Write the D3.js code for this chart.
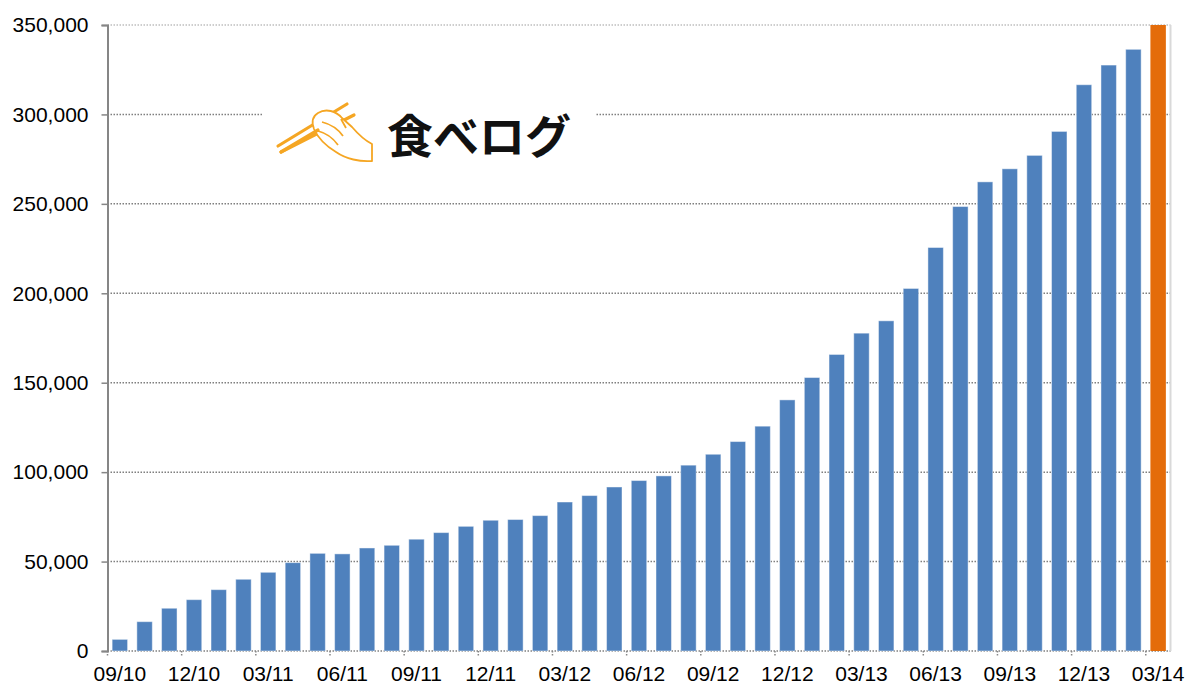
<!DOCTYPE html>
<html>
<head>
<meta charset="utf-8">
<script src="https://cdn.jsdelivr.net/npm/d3@7"></script>
<style>
  html, body { margin: 0; padding: 0; background: #fff; }
</style>
</head>
<body>
<div id="main"></div>
<script>
const ctx = {
    w: 1189,
    h: 686,
    left: 107.5,
    right: 1170.5,
    top: 25,
    bottom: 651
};

// months, 09/10 .. 03/14
const months = [
    "09/10", "10/10", "11/10", "12/10",
    "01/11", "02/11", "03/11", "04/11", "05/11", "06/11", "07/11", "08/11", "09/11", "10/11", "11/11", "12/11",
    "01/12", "02/12", "03/12", "04/12", "05/12", "06/12", "07/12", "08/12", "09/12", "10/12", "11/12", "12/12",
    "01/13", "02/13", "03/13", "04/13", "05/13", "06/13", "07/13", "08/13", "09/13", "10/13", "11/13", "12/13",
    "01/14", "02/14", "03/14"
];

// monthly counts
const counts = [
    6500, 16400, 23900, 28700,
    34300, 40100, 44000, 49400, 54600, 54300, 57600, 59100, 62500, 66200, 69700, 73100,
    73500, 75700, 83300, 86900, 91700, 95300, 97900, 103900, 110000, 117100, 125700, 140400,
    152900, 165800, 177700, 184600, 202700, 225600, 248500, 262300, 269600, 277100, 290500, 316600,
    327600, 336400, 350000
];

const yTicks = [0, 50000, 100000, 150000, 200000, 250000, 300000, 350000];
const xTickLabels = ["09/10", "12/10", "03/11", "06/11", "09/11", "12/11", "03/12", "06/12",
    "09/12", "12/12", "03/13", "06/13", "09/13", "12/13", "03/14"];
const highlight = "03/14";

//==============================================================================================
function drawChart(svg) {
    const x = d3.scaleBand()
        .domain(months)
        .range([ctx.left, ctx.right])
        .paddingInner(0.375)
        .paddingOuter(0.1875);

    const y = d3.scaleLinear()
        .domain([0, 350000])
        .range([ctx.bottom, ctx.top]);

    const fmt = d3.format(",");

    // gridlines (dotted)
    svg.append("g")
        .selectAll("line")
        .data(yTicks)
        .enter().append("line")
        .attr("x1", ctx.left)
        .attr("x2", ctx.right)
        .attr("y1", d => y(d))
        .attr("y2", d => y(d))
        .attr("stroke", d => d == 350000 ? "#bfbfbf" : "#7f7f7f")
        .attr("stroke-width", 1.5)
        .attr("stroke-dasharray", "1.5,1.5");

    // right frame line
    svg.append("line")
        .attr("x1", ctx.right).attr("x2", ctx.right)
        .attr("y1", ctx.top).attr("y2", ctx.bottom)
        .attr("stroke", "#d9d9d9")
        .attr("stroke-width", 2);

    // bars
    svg.append("g")
        .selectAll("rect")
        .data(months)
        .enter().append("rect")
        .attr("x", d => x(d))
        .attr("y", (d, i) => y(counts[i]))
        .attr("width", x.bandwidth())
        .attr("height", (d, i) => y(0) - y(counts[i]))
        .attr("fill", d => d == highlight ? "#E46C0A" : "#4F81BD")
        .attr("stroke", d => d == highlight ? "none" : "rgba(255,255,255,0.45)")
        .attr("stroke-width", 1);

    // y axis
    const yAxis = svg.append("g")
        .attr("transform", `translate(${ctx.left},0)`)
        .call(d3.axisLeft(y).tickValues(yTicks).tickFormat(fmt).tickSize(6).tickPadding(13));
    yAxis.select(".domain").attr("stroke", "#868686").attr("stroke-width", 2);
    yAxis.selectAll(".tick line").attr("stroke", "#868686").attr("stroke-width", 1.5);
    yAxis.selectAll("text")
        .attr("font-family", "'Liberation Sans', Arial, sans-serif")
        .attr("font-size", "21px")
        .attr("fill", "#000");

    // x axis: dotted ticks on every third month boundary, labels centred on the bar
    const xg = svg.append("g");
    xg.selectAll("line")
        .data(xTickLabels)
        .enter().append("line")
        .attr("x1", d => x(d) - x.step() * x.paddingInner() / 2)
        .attr("x2", d => x(d) - x.step() * x.paddingInner() / 2)
        .attr("y1", ctx.bottom)
        .attr("y2", ctx.bottom + 6)
        .attr("stroke", "#868686")
        .attr("stroke-width", 1.5)
        .attr("stroke-dasharray", "1.5,1.5");

    xg.selectAll("text")
        .data(xTickLabels)
        .enter().append("text")
        .attr("x", d => x(d) + x.bandwidth() / 2)
        .attr("y", 681)
        .attr("text-anchor", "middle")
        .attr("font-family", "'Liberation Sans', Arial, sans-serif")
        .attr("font-size", "21px")
        .attr("fill", "#000")
        .text(d => d);
}

//==============================================================================================
function drawLogo(svg) {
    const g = svg.append("g").attr("id", "logo");

    // the logo sits on a white box that hides the gridline
    g.append("rect")
        .attr("x", 262).attr("y", 96)
        .attr("width", 333).attr("height", 74)
        .attr("fill", "#fff");

    const orange = "#F5A623";
    // chopsticks
    g.append("path")
        .attr("d", "M278,146 L347,104 M281,152 L354,115")
        .attr("stroke", orange).attr("stroke-width", 3.2)
        .attr("stroke-linecap", "round").attr("fill", "none");
    // hand
    g.append("path")
        .attr("d", "M318,113 C326,108 336,111 342,118 L352,127 C358,134 364,140 372,144 L372,161 "
            + "C360,162 346,159 336,152 C326,146 318,138 314,129 C311,121 313,116 318,113 Z "
            + "M322,122 C330,124 338,129 343,136 M318,131 C326,133 333,138 338,145 M341,119 L346,128")
        .attr("stroke", orange).attr("stroke-width", 1.8)
        .attr("stroke-linejoin", "round").attr("fill", "#fff");
    g.append("path")
        .attr("d", "M281,152 L318,130")
        .attr("stroke", orange).attr("stroke-width", 3.2)
        .attr("stroke-linecap", "round").attr("fill", "none");

    g.append("text")
        .attr("x", 387)
        .attr("y", 153)
        .attr("font-family", "'Noto Sans CJK JP', sans-serif")
        .attr("font-weight", "bold")
        .attr("font-size", "46px")
        .attr("fill", "#111")
        .text("食べログ");
}

function createViz() {
    var svgEl = d3.select("#main").append("svg");
    svgEl.attr("width", ctx.w);
    svgEl.attr("height", ctx.h);
    var rootG = svgEl.append("g").attr("id", "rootG");
    drawChart(rootG);
    drawLogo(rootG);
}

createViz();
</script>
</body>
</html>
